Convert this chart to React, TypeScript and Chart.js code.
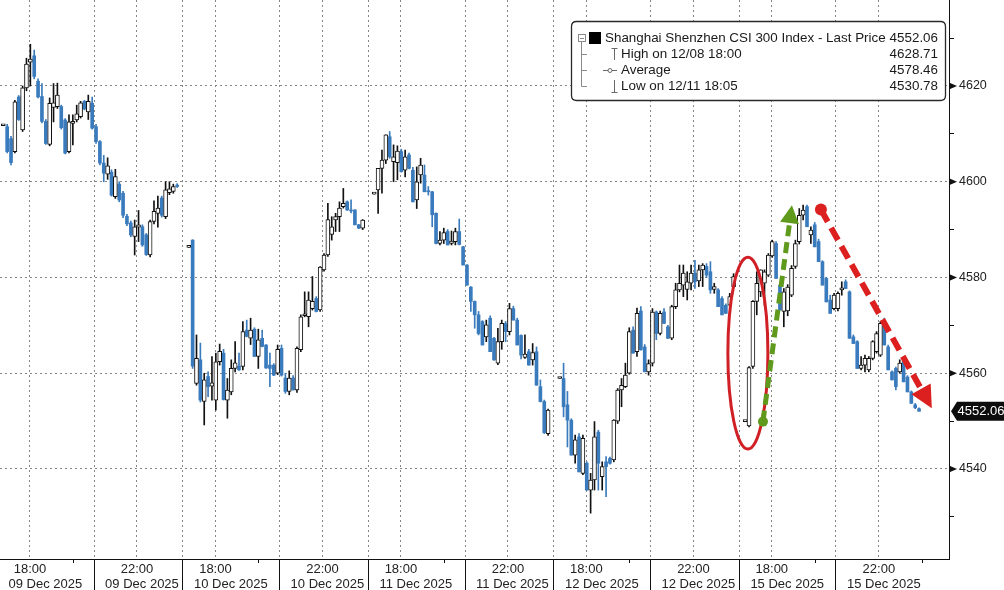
import React, { useEffect, useRef } from 'react';
import { Chart, registerables } from 'chart.js';

Chart.register(...registerables);

// ---------------- data ----------------
// Axis labels
const sessionDates = ['09 Dec 2025', '10 Dec 2025', '11 Dec 2025', '12 Dec 2025', '15 Dec 2025'];
const labelTimes = ['18:00', '22:00'];

// 5-minute bars [open, high, low, close]; first entry of each day = opening auction print
const bars09Dec: number[][] = [
  [4611.7, 4611.7, 4611.7, 4611.7],
  [4611.5, 4612, 4606, 4606.3], [4609, 4609.5, 4603.5, 4604], [4606.3, 4617, 4606, 4616.7],
  [4617.7, 4618, 4612.8, 4613], [4610.8, 4620, 4610.5, 4619.6], [4619.6, 4625.8, 4619, 4624.6],
  [4625, 4628.71, 4620, 4625.6], [4626.3, 4627.5, 4621.5, 4622], [4621, 4621.5, 4617.5, 4617.7],
  [4617.8, 4620.5, 4612.3, 4612.6], [4612.6, 4613, 4607.8, 4608], [4607.8, 4617.5, 4607.5, 4616.4],
  [4615.5, 4620.5, 4612.5, 4616.5], [4615.7, 4620.6, 4615.3, 4618.1], [4615.7, 4616, 4611, 4611.3],
  [4612.9, 4613.2, 4605.8, 4606], [4606.3, 4614, 4606, 4612.5], [4612.2, 4614, 4607.7, 4612.6],
  [4612.9, 4616, 4612.5, 4614.2], [4613.6, 4616.8, 4613.3, 4616.5], [4616.8, 4617, 4615, 4615.2],
  [4614.6, 4618.1, 4613, 4616.8], [4616.4, 4617.7, 4611, 4611.2],
  [4611.5, 4612, 4608, 4608.4], [4608.4, 4608.6, 4603.5, 4603.9], [4603.9, 4605.5, 4600, 4601.8],
  [4601.6, 4605, 4600.5, 4603.3], [4602, 4602.5, 4597, 4597.2], [4596.9, 4602.6, 4596.5, 4601.1],
  [4599.5, 4600, 4595.8, 4596.2], [4597.6, 4598, 4592.5, 4593], [4592.8, 4593.2, 4590.8, 4591.2],
  [4591.4, 4591.8, 4588.5, 4588.9], [4588.6, 4592, 4584.7, 4590.6], [4590.5, 4594, 4587.5, 4591],
  [4590.6, 4591, 4586.5, 4586.8], [4588.9, 4589.2, 4584.6, 4584.8], [4584.7, 4592, 4584.3, 4591.7],
  [4591.7, 4596, 4591.2, 4593.8], [4593.4, 4597, 4590.5, 4594.5], [4596.6, 4597, 4592.6, 4593],
  [4592.7, 4600, 4592.3, 4598.3], [4597.7, 4600, 4597.3, 4598.5], [4598, 4599.5, 4597.6, 4599],
  [4599.3, 4599.6, 4598.8, 4599],
];

const bars10Dec: number[][] = [
  [4586.3, 4586.3, 4586.3, 4586.3],
  [4587.8, 4587.9, 4561, 4561.5], [4557.9, 4568, 4557.5, 4563.1], [4562.8, 4566.3, 4554, 4554.4],
  [4554.1, 4560, 4549.2, 4558.6], [4559.3, 4560.3, 4555.1, 4557.2], [4557.3, 4563.5, 4554.4, 4558],
  [4554.4, 4564.2, 4552.3, 4562.4], [4562.4, 4566.1, 4561.7, 4564.6], [4564.2, 4565, 4554.4, 4554.5],
  [4554.4, 4558.9, 4550.6, 4556.5], [4556.1, 4562.8, 4555.5, 4561], [4561, 4566.6, 4560.3, 4562.2],
  [4561.5, 4564.2, 4560.6, 4560.7], [4561.4, 4570.8, 4560.7, 4568.7], [4569, 4571.1, 4567.6, 4567.7],
  [4567.3, 4571.5, 4566, 4569], [4569.2, 4569.5, 4563.5, 4563.5], [4563.5, 4569.2, 4561, 4567],
  [4567.3, 4569, 4565.5, 4565.6], [4565.9, 4566, 4561, 4561.1], [4561.7, 4564.2, 4557.2, 4561],
  [4561.7, 4562, 4559.5, 4559.6], [4560, 4565.9, 4559.7, 4565],
  [4565.2, 4565.9, 4559.4, 4559.6], [4559, 4560, 4555.8, 4556.2], [4556.2, 4560.5, 4555.5, 4559],
  [4559, 4559.5, 4556.5, 4556.5], [4556.5, 4565.5, 4556, 4565.2], [4564.9, 4572.2, 4564.5, 4571.8],
  [4572, 4577, 4571.8, 4572.2], [4571.8, 4577, 4569.7, 4575.3], [4573.5, 4580.2, 4573.2, 4575],
  [4575.6, 4576, 4572.8, 4572.9], [4573.2, 4582.3, 4572.9, 4582.2], [4581.6, 4585, 4581.3, 4584.7],
  [4584.7, 4595.5, 4584.4, 4592.1], [4589, 4592.7, 4587.8, 4590.6], [4592, 4593.4, 4589.6, 4592.7],
  [4592.7, 4595.8, 4589.6, 4594.5], [4594.8, 4598.6, 4594.5, 4595.5], [4595.8, 4596, 4594, 4594.1],
  [4594, 4596.2, 4593.5, 4593.9], [4594.1, 4594.2, 4591, 4591], [4591, 4591.1, 4590.2, 4590.3],
  [4590.3, 4592.1, 4590, 4592],
];

const bars11Dec: number[][] = [
  [4597.4, 4597.4, 4597.4, 4597.4],
  [4598.3, 4602.8, 4593.4, 4602.8], [4602.8, 4606.6, 4597.6, 4604.5], [4604.5, 4609.8, 4603.8, 4609.8],
  [4609.4, 4610.5, 4604.9, 4605.2], [4604.2, 4607.7, 4600, 4605.2], [4604, 4607.5, 4600.4, 4606.4],
  [4606.3, 4606.8, 4602, 4602.1], [4602.4, 4606.6, 4601, 4605.2], [4605.6, 4606, 4602.7, 4602.8],
  [4602.4, 4603, 4595.8, 4595.8], [4596.2, 4603.1, 4594.4, 4600], [4601.4, 4604.9, 4599.7, 4603.5],
  [4601.4, 4603.5, 4597.9, 4597.9], [4598, 4599, 4597.2, 4597.9], [4597.9, 4598, 4590.6, 4593.1],
  [4593.4, 4593.5, 4587, 4587.1], [4587.1, 4589.6, 4586.8, 4587.8], [4587.8, 4590.3, 4587.1, 4589.4],
  [4589.6, 4590, 4586.8, 4586.8], [4587.1, 4589.7, 4586.8, 4587.6], [4587.5, 4590.3, 4586.8, 4589.6],
  [4589.6, 4592.2, 4586.8, 4586.9], [4586.4, 4586.5, 4582.6, 4582.6],
  [4582.6, 4582.7, 4578.4, 4578.4], [4578, 4578.1, 4572.9, 4575], [4575, 4575.1, 4569.4, 4572.2],
  [4572.2, 4572.9, 4568, 4568.3], [4570.8, 4571, 4565.9, 4565.9], [4567.6, 4571.1, 4566.6, 4570.1],
  [4571.5, 4572, 4564.5, 4564.5], [4567.3, 4567.5, 4562.7, 4562.8], [4562.1, 4569.4, 4561.8, 4566.6],
  [4566.6, 4571.1, 4565, 4570.4], [4570.4, 4570.8, 4566.6, 4568.7], [4568.7, 4574.6, 4568, 4573.5],
  [4573.5, 4574, 4571.1, 4571.1], [4571.1, 4571.5, 4565.9, 4565.9], [4567.9, 4568, 4563, 4563.8],
  [4563.3, 4568, 4563.1, 4564], [4564.5, 4565, 4561.7, 4561.7], [4562.8, 4566.2, 4561.7, 4564.3],
  [4564.5, 4565.5, 4557.5, 4557.5], [4557.2, 4558.6, 4554, 4554.1], [4554.1, 4554.4, 4547.4, 4547.6],
  [4547.4, 4552.5, 4547, 4552.3],
];

const bars12Dec: number[][] = [
  [4558.9, 4558.9, 4558.9, 4558.9],
  [4558.9, 4562.1, 4550.9, 4553], [4553.4, 4556.2, 4544.6, 4550.2], [4550.2, 4550.5, 4542.9, 4542.9],
  [4542.9, 4547.1, 4541.2, 4546.1], [4546.7, 4547.4, 4539.4, 4539.4], [4539.1, 4547.1, 4538.8, 4546.4],
  [4541.2, 4541.5, 4535.6, 4535.6], [4535.6, 4539.1, 4530.78, 4537.7], [4537.7, 4549.9, 4535.6, 4546.7],
  [4547.7, 4548.1, 4535.6, 4541.2], [4538.4, 4541.5, 4535.6, 4540.5], [4541.5, 4542.6, 4534.2, 4540.5],
  [4542.2, 4542.5, 4541, 4541.2], [4541.9, 4550.3, 4541.5, 4550.2], [4550, 4556.8, 4549.5, 4556.5],
  [4556.5, 4558.9, 4553, 4557.5], [4557.2, 4562.1, 4557, 4559.6], [4560, 4569.5, 4559.8, 4568.7],
  [4569, 4569.7, 4564.2, 4564.2], [4564.5, 4573.6, 4563.5, 4572.5], [4573, 4573.9, 4564.8, 4564.9],
  [4565.5, 4566, 4560.3, 4560.3], [4560.3, 4562.8, 4559.6, 4562],
  [4562.1, 4573.5, 4561.5, 4572.8], [4572.8, 4573, 4567, 4568.3], [4568.3, 4573, 4568, 4572.5],
  [4572.8, 4573.5, 4570.4, 4570.4], [4569.7, 4570, 4567.2, 4567.3], [4567.3, 4574.2, 4567, 4573.9],
  [4573.9, 4578.8, 4573.5, 4577.4], [4577.4, 4582.6, 4577, 4578.8], [4578.4, 4582.6, 4576, 4580.9],
  [4577.5, 4581.2, 4575.3, 4579.1], [4578.8, 4582.6, 4577.4, 4580.9], [4580.9, 4583.6, 4577.7, 4579.1],
  [4579.3, 4582.6, 4578.1, 4581.6], [4581.6, 4582.9, 4578.1, 4582.6], [4582.3, 4582.9, 4580, 4580.5],
  [4581.2, 4583.3, 4576.7, 4577.4], [4577.5, 4578.8, 4576.7, 4578.1], [4577.4, 4577.7, 4573.9, 4573.9],
  [4575.6, 4576, 4572.2, 4572.2], [4574.2, 4574.5, 4572.5, 4572.5], [4574.2, 4576.7, 4573.9, 4576],
  [4578.1, 4580.8, 4577.9, 4580.2],
];

const bars15Dec: number[][] = [
  [4549.9, 4549.9, 4549.9, 4549.9],
  [4549, 4561.4, 4548.8, 4561.2], [4561.4, 4575.2, 4561, 4575], [4575, 4581.2, 4572.2, 4578.8],
  [4577, 4581.6, 4576, 4581.6], [4578.8, 4581.6, 4574.2, 4581.2], [4580.5, 4585, 4580.2, 4584.7],
  [4584.5, 4587.8, 4584.2, 4587.5], [4587.1, 4587.5, 4579.8, 4579.8], [4578.4, 4578.8, 4573.2, 4573.2],
  [4572.9, 4577.7, 4569.7, 4577], [4573, 4578.5, 4572, 4578], [4576.3, 4582.5, 4576, 4581.9],
  [4582.3, 4587.8, 4581.9, 4587.1], [4587.5, 4594.4, 4587, 4593], [4593, 4595.1, 4592, 4594.1],
  [4594.8, 4595.1, 4590.6, 4590.6], [4588.9, 4590.6, 4587.1, 4589.9], [4591, 4591.5, 4586.4, 4586.4],
  [4587.5, 4588, 4583.3, 4583.3], [4583.3, 4583.5, 4578.4, 4578.4], [4579.8, 4580, 4574.9, 4574.9],
  [4575.3, 4576.3, 4572.5, 4572.5], [4573.5, 4576.7, 4573.2, 4576.3],
  [4573.5, 4577, 4573, 4576.7], [4577.4, 4579.1, 4576.3, 4577.7], [4579.1, 4579.5, 4577.7, 4577.7],
  [4577, 4577.2, 4567.3, 4567.3], [4567.6, 4568, 4566.2, 4566.2], [4566.6, 4566.8, 4561, 4561],
  [4561, 4563.5, 4560.7, 4561.7], [4561.7, 4563.8, 4560.3, 4563.1], [4560.7, 4563.5, 4560.3, 4563.1],
  [4563.1, 4566.8, 4562.8, 4566.6], [4564.5, 4568.7, 4564.2, 4568.3], [4563.8, 4570.8, 4563.5, 4570.4],
  [4570.1, 4571.5, 4565.9, 4565.9], [4565.5, 4565.9, 4560.7, 4560.7], [4560.3, 4560.5, 4558.6, 4558.6],
  [4561, 4561.3, 4556.5, 4557.2], [4560.3, 4562.8, 4560, 4562.1], [4562.4, 4562.8, 4558.2, 4558.2],
  [4559.2, 4559.5, 4556.1, 4556.1], [4556.1, 4556.3, 4553.7, 4553.7], [4553.4, 4553.7, 4552.6, 4552.8],
  [4552.6, 4552.8, 4552.1, 4552.06],
];

const sessions = [bars09Dec, bars10Dec, bars11Dec, bars12Dec, bars15Dec];

// Legend
const seriesName = 'Shanghai Shenzhen CSI 300 Index - Last Price';
const legendLabels = ['High on 12/08 18:00', 'Average', 'Low on 12/11 18:05'];
const legendValues = ['4552.06', '4628.71', '4578.46', '4530.78'];

// Time-slot layout of the x axis (one slot = one 5-minute bar)
const SLOTS_PER_DAY = 48;
const FIRST_BAR_SLOT = 1;
const LUNCH_SLOT = 24.5;
const labelSlots = [7.9, 35.6];
const hourSlots = [19];
const X_MIN = 0.147;
const X_MAX = 245.75;
const Y_MIN = 4521.2;
const Y_MAX = 4637.96;

// Annotations (in data units: slot, index level)
const noteEllipse = { x: 193.7, y: 4564.2, rx: 5.18, ry: 20.05 };
const greenArrow = { x0: 197.6, y0: 4549.9, x1: 205.1, y1: 4595.1 };
const redArrow = { x0: 212.6, y0: 4594.2, x1: 241.3, y1: 4552.7 };

// ---------------- styles ----------------
const BLUE = '#3a7bbd';
const DARK = '#111111';
const GRID = '#858585';
const FONT = '"Liberation Sans", Arial, sans-serif';

type Bar = { x: number; o: number; h: number; l: number; c: number; up: boolean };

const bars: Bar[] = sessions.flatMap((day, d) =>
  day.map(([o, h, l, c], k) => ({
    x: d * SLOTS_PER_DAY + FIRST_BAR_SLOT + k,
    o, h, l, c,
    up: c >= o,
  }))
);

const boundarySlots: number[] = [];
sessionDates.forEach((_, d) => {
  if (d > 0) boundarySlots.push(d * SLOTS_PER_DAY - 0.5);
  boundarySlots.push(d * SLOTS_PER_DAY + LUNCH_SLOT);
});
const labelTickSlots: number[] = [];
sessionDates.forEach((_, d) => labelSlots.forEach((s) => labelTickSlots.push(d * SLOTS_PER_DAY + s)));
const xGridSlots = [...boundarySlots, ...labelTickSlots].sort((a, b) => a - b);
const isBoundary = (v: number | undefined) =>
  v !== undefined && boundarySlots.some((b) => Math.abs(b - v) < 1e-6);

const yTicks: number[] = [];
for (let v = 4530; v <= 4630; v += 10) yTicks.push(v);

function drawArrow(ctx: CanvasRenderingContext2D, xs: any, ys: any, a: any, color: string,
  width: number, dash: number[], dotR: number, headLen: number, headHalf: number) {
  const x0 = xs.getPixelForValue(a.x0), y0 = ys.getPixelForValue(a.y0);
  const x1 = xs.getPixelForValue(a.x1), y1 = ys.getPixelForValue(a.y1);
  const len = Math.hypot(x1 - x0, y1 - y0);
  const ux = (x1 - x0) / len, uy = (y1 - y0) / len;
  const bx = x1 - ux * headLen, by = y1 - uy * headLen;
  ctx.save();
  ctx.strokeStyle = color;
  ctx.fillStyle = color;
  ctx.lineWidth = width;
  ctx.setLineDash(dash);
  ctx.beginPath();
  ctx.moveTo(x0, y0);
  ctx.lineTo(bx, by);
  ctx.stroke();
  ctx.setLineDash([]);
  ctx.beginPath();
  ctx.arc(x0, y0, dotR, 0, Math.PI * 2);
  ctx.fill();
  ctx.beginPath();
  ctx.moveTo(x1, y1);
  ctx.lineTo(bx - uy * headHalf, by + ux * headHalf);
  ctx.lineTo(bx + uy * headHalf, by - ux * headHalf);
  ctx.closePath();
  ctx.fill();
  ctx.restore();
}

const overlayPlugin = {
  id: 'overlay',
  afterDraw(chart: any) {
    const { ctx, chartArea: ca } = chart;
    const xs = chart.scales.x;
    const ys = chart.scales.y;
    ctx.save();

    // x-axis labels (time centred on its grid line, date kept right of the divider)
    ctx.font = `13px ${FONT}`;
    ctx.fillStyle = '#222';
    ctx.textBaseline = 'middle';
    ctx.textAlign = 'left';
    sessionDates.forEach((date, d) => {
      labelSlots.forEach((s, k) => {
        const px = xs.getPixelForValue(d * SLOTS_PER_DAY + s);
        const divider = xs.getPixelForValue(k === 0 ? d * SLOTS_PER_DAY - 0.5 : d * SLOTS_PER_DAY + LUNCH_SLOT);
        const t = labelTimes[k];
        const tw = ctx.measureText(t).width;
        ctx.fillText(t, Math.max(px - tw / 2, divider + 11), ca.bottom + 10.5);
        const dw = ctx.measureText(date).width;
        ctx.fillText(date, Math.max(px - dw / 2, divider + 11), ca.bottom + 25.5);
      });
    });

    // hourly minor ticks
    ctx.strokeStyle = DARK;
    ctx.lineWidth = 1;
    const hours: number[] = [];
    sessionDates.forEach((_, d) => hourSlots.forEach((h) => hours.push(d * SLOTS_PER_DAY + h)));
    hours.push(bars[bars.length - 1].x + 0.8);
    ctx.beginPath();
    hours.forEach((v) => {
      const px = Math.round(xs.getPixelForValue(v)) + 0.5;
      ctx.moveTo(px, ca.bottom);
      ctx.lineTo(px, ca.bottom + 4);
    });
    ctx.stroke();

    // y major tick triangles
    ctx.fillStyle = DARK;
    yTicks.forEach((v) => {
      if (v % 20 !== 0) return;
      const py = ys.getPixelForValue(v);
      ctx.beginPath();
      ctx.moveTo(ca.right, py - 3.5);
      ctx.lineTo(ca.right + 8, py);
      ctx.lineTo(ca.right, py + 3.5);
      ctx.closePath();
      ctx.fill();
    });

    // last price tag
    const last = bars[bars.length - 1].c;
    const ly = ys.getPixelForValue(last);
    ctx.fillStyle = '#0d0d0d';
    ctx.beginPath();
    ctx.moveTo(ca.right + 2, ly);
    ctx.lineTo(ca.right + 8, ly - 9.5);
    ctx.lineTo(chart.width, ly - 9.5);
    ctx.lineTo(chart.width, ly + 9.5);
    ctx.lineTo(ca.right + 8, ly + 9.5);
    ctx.closePath();
    ctx.fill();
    ctx.fillStyle = '#ffffff';
    ctx.font = `13px ${FONT}`;
    ctx.textAlign = 'left';
    ctx.fillText(last.toFixed(2), ca.right + 8.5, ly + 0.5);

    // red ellipse
    const ex = xs.getPixelForValue(noteEllipse.x);
    const ey = ys.getPixelForValue(noteEllipse.y);
    const erx = xs.getPixelForValue(noteEllipse.x + noteEllipse.rx) - ex;
    const ery = ey - ys.getPixelForValue(noteEllipse.y + noteEllipse.ry);
    ctx.strokeStyle = '#d11f26';
    ctx.lineWidth = 3;
    ctx.beginPath();
    ctx.ellipse(ex, ey, erx, ery, 0, 0, Math.PI * 2);
    ctx.stroke();

    drawArrow(ctx, xs, ys, greenArrow, '#5f9a1d', 5, [11, 6], 5, 18, 9.5);
    drawArrow(ctx, xs, ys, redArrow, '#dc2020', 6, [14, 7], 6, 22, 11);

    // legend box
    const L = 571.5, T = 21.5, R = 945.5, B = 100.5, rad = 5;
    ctx.beginPath();
    ctx.moveTo(L + rad, T);
    ctx.lineTo(R - rad, T);
    ctx.quadraticCurveTo(R, T, R, T + rad);
    ctx.lineTo(R, B - rad);
    ctx.quadraticCurveTo(R, B, R - rad, B);
    ctx.lineTo(L + rad, B);
    ctx.quadraticCurveTo(L, B, L, B - rad);
    ctx.lineTo(L, T + rad);
    ctx.quadraticCurveTo(L, T, L + rad, T);
    ctx.closePath();
    ctx.fillStyle = '#ffffff';
    ctx.fill();
    ctx.strokeStyle = '#2a2a2a';
    ctx.lineWidth = 1.3;
    ctx.stroke();

    const rows = [38, 54, 70, 86];
    // tree
    ctx.strokeStyle = '#8a8a8a';
    ctx.lineWidth = 1;
    ctx.strokeRect(578.5, 34.5, 7, 7);
    ctx.beginPath();
    ctx.moveTo(580, 38.5); ctx.lineTo(584, 38.5);
    ctx.moveTo(581.5, 42); ctx.lineTo(581.5, rows[3] + 0.5);
    [rows[1], rows[2], rows[3]].forEach((ry) => {
      ctx.moveTo(581.5, ry + 0.5); ctx.lineTo(587, ry + 0.5);
    });
    ctx.stroke();
    ctx.fillStyle = '#000';
    ctx.fillRect(589, 32, 12, 12);
    // icons
    ctx.strokeStyle = '#6a6a6a';
    ctx.beginPath();
    ctx.moveTo(611.5, rows[1] - 5.5); ctx.lineTo(617.5, rows[1] - 5.5);
    ctx.moveTo(614.5, rows[1] - 5.5); ctx.lineTo(614.5, rows[1] + 6);
    ctx.moveTo(603, rows[2] + 0.5); ctx.lineTo(617, rows[2] + 0.5);
    ctx.moveTo(611.5, rows[3] + 6.5); ctx.lineTo(617.5, rows[3] + 6.5);
    ctx.moveTo(614.5, rows[3] - 6); ctx.lineTo(614.5, rows[3] + 6.5);
    ctx.stroke();
    ctx.beginPath();
    ctx.arc(610, rows[2] + 0.5, 2, 0, Math.PI * 2);
    ctx.fillStyle = '#fff';
    ctx.fill();
    ctx.stroke();

    ctx.font = `13.4px ${FONT}`;
    ctx.fillStyle = '#1a1a1a';
    ctx.textBaseline = 'middle';
    ctx.textAlign = 'left';
    ctx.fillText(seriesName, 605, rows[0] + 0.5);
    legendLabels.forEach((t, i) => ctx.fillText(t, 621, rows[i + 1] + 0.5));
    ctx.textAlign = 'right';
    legendValues.forEach((t, i) => ctx.fillText(t, 938, rows[i] + 0.5));

    ctx.restore();
  },
};

export default function App() {
  const ref = useRef<HTMLCanvasElement | null>(null);

  useEffect(() => {
    if (!ref.current) return;
    const upBars = bars.filter((b) => b.up);
    const downBars = bars.filter((b) => !b.up);

    const chart = new Chart(ref.current, {
      type: 'bar',
      data: {
        datasets: [
          {
            label: 'up',
            data: upBars.map((b) => ({ x: b.x, y: [b.o, b.c] })) as any,
            backgroundColor: '#ffffff',
            borderColor: DARK,
            borderWidth: 1,
            borderSkipped: false,
            barThickness: 4,
            minBarLength: 2,
            grouped: false,
            order: 1,
          } as any,
          {
            label: 'down',
            data: downBars.map((b) => ({ x: b.x, y: [b.c, b.o] })) as any,
            backgroundColor: BLUE,
            borderWidth: 0,
            barThickness: 3,
            minBarLength: 1,
            grouped: false,
            order: 1,
          } as any,
          {
            label: 'range',
            data: bars.map((b) => ({ x: b.x, y: [b.l, b.h] })) as any,
            backgroundColor: bars.map((b) => (b.up ? DARK : BLUE)),
            borderWidth: 0,
            barThickness: 1,
            grouped: false,
            order: 2,
          } as any,
        ],
      },
      options: {
        animation: false,
        responsive: false,
        events: [],
        layout: { padding: 0 },
        plugins: { legend: { display: false }, tooltip: { enabled: false } },
        scales: {
          x: {
            type: 'linear',
            min: X_MIN,
            max: X_MAX,
            offset: false,
            afterBuildTicks: (s: any) => {
              s.ticks = xGridSlots.map((v) => ({ value: v }));
            },
            afterFit: (s: any) => {
              s.height = 31;
              s.paddingLeft = 0;
              s.paddingRight = 0;
            },
            ticks: { display: false },
            grid: {
              offset: false,
              color: GRID,
              lineWidth: 1,
              drawTicks: true,
              tickLength: 31,
              tickWidth: 1,
              tickColor: (c: any) => (isBoundary(c.tick?.value) ? DARK : 'rgba(0,0,0,0)'),
            },
            border: { display: true, color: DARK, width: 1, dash: [2, 3] },
          },
          y: {
            type: 'linear',
            position: 'right',
            min: Y_MIN,
            max: Y_MAX,
            afterBuildTicks: (s: any) => {
              s.ticks = yTicks.map((v) => ({ value: v }));
            },
            afterFit: (s: any) => {
              s.width = 55;
              s.paddingTop = 0;
              s.paddingBottom = 0;
            },
            ticks: {
              autoSkip: false,
              padding: 5,
              color: '#222',
              font: { family: FONT, size: 12.5 },
              callback: (v: any) => (Number(v) % 20 === 0 ? String(v) : ''),
            },
            grid: {
              color: (c: any) => (c.tick && c.tick.value % 20 === 0 ? GRID : 'rgba(0,0,0,0)'),
              lineWidth: 1,
              tickLength: 5,
              tickColor: DARK,
            },
            border: { display: true, color: DARK, width: 1, dash: [2, 3] },
          },
        },
      } as any,
      plugins: [overlayPlugin],
    });
    return () => chart.destroy();
  }, []);

  return (
    <div style={{ position: 'fixed', left: 0, top: 0, width: 1004, height: 590, background: '#ffffff' }}>
      <canvas ref={ref} width={1004} height={590} style={{ display: 'block' }} />
    </div>
  );
}
